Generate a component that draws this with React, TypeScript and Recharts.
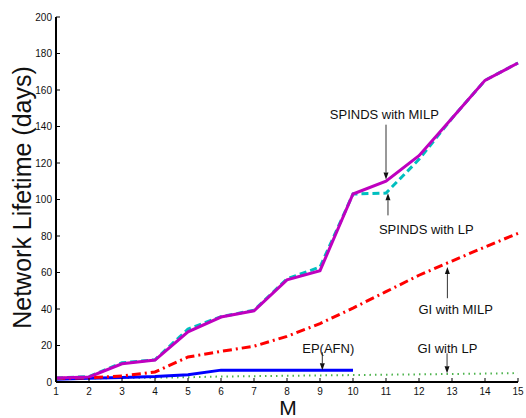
import { LineChart, Line, XAxis, YAxis, ReferenceLine, ReferenceDot } from 'recharts';

const mValues = [1, 2, 3, 4, 5, 6, 7, 8, 9, 10, 11, 12, 13, 14, 15];
const spindsMilp = [2.2, 2.8, 10, 12, 27.5, 35.6, 39, 56, 61, 103, 110, 124, 144.5, 165.3, 174.8];
const spindsLp = [2.2, 3, 10.5, 12.2, 29, 35.8, 39.3, 56.5, 63, 103, 103.5, 122, 144.5, 165.3, 174.8];
const giMilp = [2, 2.3, 3.3, 5.5, 13.7, 16.8, 19.6, 25, 32, 40.5, 49.5, 58.5, 66.3, 74, 81.5];
const epAfn = [1.5, 2, 2.5, 3, 4, 6.5, 6.5, 6.5, 6.5, 6.5, null, null, null, null, null];
const giLp = [1.5, 2, 2.2, 2.4, 2.6, 3, 3.2, 3.4, 3.6, 3.8, 4, 4.2, 4.4, 4.6, 4.9];

const xTicks = mValues;
const yTicks = [0, 20, 40, 60, 80, 100, 120, 140, 160, 180, 200];

const annotations = [
  { text: 'SPINDS with MILP', tx: 10.95, ty: 146.5, ax: 11, from: 141, to: 111 },
  { text: 'SPINDS with LP', tx: 12.22, ty: 83.6, ax: 11.06, from: 91.3, to: 103.4 },
  { text: 'GI with MILP', tx: 13.11, ty: 39.8, ax: 12.86, from: 45.9, to: 63 },
  { text: 'EP(AFN)', tx: 9.25, ty: 18.2, ax: 9.07, from: 16.3, to: 6.4 },
  { text: 'GI with LP', tx: 12.86, ty: 18.2, ax: 12.85, from: 15.7, to: 4.8 },
];

const data = mValues.map((m, i) => ({
  m,
  spindsMilp: spindsMilp[i],
  spindsLp: spindsLp[i],
  giMilp: giMilp[i],
  epAfn: epAfn[i],
  giLp: giLp[i],
}));

const FONT = '"Liberation Sans", Arial, Helvetica, sans-serif';

function BottomTick({ x, y, payload }: any) {
  return (
    <g>
      <line x1={x} x2={x} y1={y} y2={y - 4} stroke="#000" strokeWidth={1} />
      <text x={x} y={y + 13} textAnchor="middle" fontSize={10} fontFamily={FONT} fill="#111">
        {payload.value}
      </text>
    </g>
  );
}

function LeftTick({ x, y, payload }: any) {
  return (
    <g>
      <line x1={x} x2={x + 4} y1={y} y2={y} stroke="#000" strokeWidth={1} />
      <text x={x - 4} y={y + 3.5} textAnchor="end" fontSize={10} fontFamily={FONT} fill="#111">
        {payload.value}
      </text>
    </g>
  );
}

function TopTick({ x, y }: any) {
  return <line x1={x} x2={x} y1={y} y2={y + 4} stroke="#000" strokeWidth={1} />;
}

function RightTick({ x, y }: any) {
  return <line x1={x} x2={x - 4} y1={y} y2={y} stroke="#000" strokeWidth={1} />;
}

function XTitle({ viewBox }: any) {
  const cx = viewBox.x + viewBox.width / 2;
  const by = viewBox.y + viewBox.height - 3;
  return (
    <text x={cx + 1} y={by} textAnchor="middle" fontSize={21} fontFamily={FONT} fill="#111">
      M
    </text>
  );
}

function YTitle({ viewBox }: any) {
  const cy = viewBox.y + viewBox.height / 2 - 2;
  const bx = 31;
  return (
    <text
      transform={`translate(${bx},${cy}) rotate(-90)`}
      textAnchor="middle"
      fontSize={25}
      fontFamily={FONT}
      fill="#111"
    >
      Network Lifetime (days)
    </text>
  );
}

// arrow from (x1,y1) to tip at (x2,y2)
function Arrow(props: any) {
  const { x1, y1, x2, y2 } = props;
  const dir = y2 > y1 ? 1 : -1;
  const head = 7;
  return (
    <g>
      <line x1={x1} y1={y1} x2={x2} y2={y2 - dir * head} stroke="#333" strokeWidth={1} />
      <path
        d={`M${x2},${y2} L${x2 - 2.5},${y2 - dir * head} L${x2 + 2.5},${y2 - dir * head} Z`}
        fill="#111"
      />
    </g>
  );
}

export default function App() {
  return (
    <div style={{ position: 'absolute', left: 0, top: 0 }}>
      <LineChart
        width={526}
        height={418}
        data={data}
        margin={{ top: 17, right: 8, bottom: 0, left: 0 }}
      >
        <XAxis
          xAxisId="bottom"
          dataKey="m"
          type="number"
          domain={[1, 15]}
          ticks={xTicks}
          orientation="bottom"
          height={36}
          tickSize={0}
          tickMargin={0}
          tick={<BottomTick />}
          axisLine={{ stroke: '#000', strokeWidth: 2 }}
          tickLine={false}
          interval={0}
          label={<XTitle />}
        />
        <XAxis
          xAxisId="top"
          dataKey="m"
          type="number"
          domain={[1, 15]}
          ticks={xTicks}
          orientation="top"
          height={0}
          tickSize={0}
          tickMargin={0}
          tick={<TopTick />}
          axisLine={{ stroke: '#000', strokeWidth: 2 }}
          tickLine={false}
          interval={0}
        />
        <YAxis
          yAxisId="left"
          type="number"
          domain={[0, 200]}
          ticks={yTicks}
          width={56}
          tickSize={0}
          tickMargin={0}
          tick={<LeftTick />}
          axisLine={{ stroke: '#000', strokeWidth: 2 }}
          tickLine={false}
          interval={0}
          label={<YTitle />}
        />
        <YAxis
          yAxisId="right"
          orientation="right"
          type="number"
          domain={[0, 200]}
          ticks={yTicks}
          width={0}
          tickSize={0}
          tickMargin={0}
          tick={<RightTick />}
          axisLine={{ stroke: '#000', strokeWidth: 2 }}
          tickLine={false}
          interval={0}
        />

        <Line xAxisId="bottom" yAxisId="left" dataKey="giLp" stroke="#4db34d" strokeWidth={2} strokeDasharray="1.5 4" dot={false} isAnimationActive={false} />
        <Line xAxisId="bottom" yAxisId="left" dataKey="epAfn" stroke="#0000ff" strokeWidth={3} dot={false} isAnimationActive={false} />
        <Line xAxisId="bottom" yAxisId="left" dataKey="giMilp" stroke="#ff0000" strokeWidth={3} strokeDasharray="9 4 2 4" dot={false} isAnimationActive={false} />
        <Line xAxisId="bottom" yAxisId="left" dataKey="spindsLp" stroke="#00bfbf" strokeWidth={3} strokeDasharray="7 4" dot={false} isAnimationActive={false} />
        <Line xAxisId="bottom" yAxisId="left" dataKey="spindsMilp" stroke="#bf00bf" strokeWidth={3} dot={false} isAnimationActive={false} />

        {annotations.map((a) => (
          <ReferenceLine
            key={`arrow-${a.text}`}
            xAxisId="bottom"
            yAxisId="left"
            segment={[
              { x: a.ax, y: a.from },
              { x: a.ax, y: a.to },
            ]}
            shape={(p: any) => <Arrow x1={p.x1} y1={p.y1} x2={p.x2} y2={p.y2} />}
          />
        ))}
        {annotations.map((a) => (
          <ReferenceDot
            key={`label-${a.text}`}
            xAxisId="bottom"
            yAxisId="left"
            x={a.tx}
            y={a.ty}
            r={1}
            fill="none"
            stroke="none"
            label={{ value: a.text, position: 'center', fontSize: 13, fill: '#111', fontFamily: FONT }}
          />
        ))}
      </LineChart>
    </div>
  );
}
